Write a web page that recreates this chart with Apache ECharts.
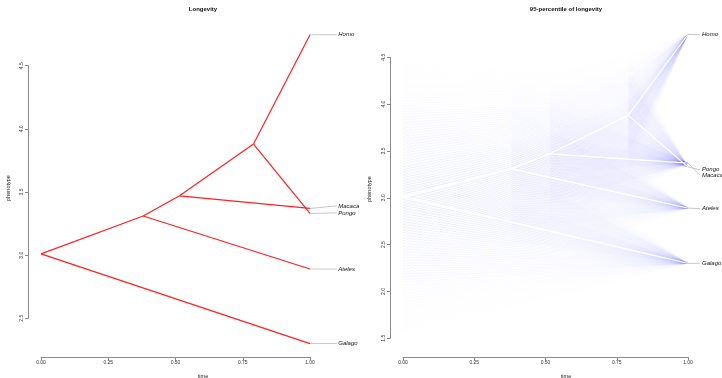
<!DOCTYPE html>
<html><head><meta charset="utf-8">
<script src="https://cdn.jsdelivr.net/npm/echarts@6/dist/echarts.min.js"></script>
<style>html,body{margin:0;padding:0;background:#fff}#c{width:722px;height:378px}</style>
</head><body><div id="c"></div>
<script>
// ---- data ----
const tipNames = ['Homo', 'Macaca', 'Pongo', 'Ateles', 'Galago'];
const tipValues = [4.745, 3.37, 3.33, 2.89, 2.30];
const tipTime = 1.0;
// internal nodes: root, n1, n2, n3
const nodeTimes = [0, 0.38, 0.515, 0.79];
const nodeValues = [3.01, 3.31, 3.47, 3.88];
const nodeLower95 = [1.51, 2.22, 2.59, 3.23];
const nodeUpper95 = [4.51, 4.40, 4.35, 4.53];
// edges: parent node index -> child ('t' = tip, 'n' = node)
const edgeParents = [0, 0, 1, 1, 2, 2, 3, 3];
const edgeChildren = ['t4', 'n1', 't3', 'n2', 't1', 'n3', 't0', 't2'];
// spread tip-label positions
const leftLabelValues = [4.745, 3.39, 3.335, 2.89, 2.30];
const rightLabelValues = [4.74, 3.24, 3.30, 2.885, 2.30];
const timeTicks = [0, 0.25, 0.5, 0.75, 1];

const FONT = 'Liberation Sans, Arial, Helvetica, sans-serif';
const chart = echarts.init(document.getElementById('c'));

function childPoint(code) {
  const idx = +code.slice(1);
  if (code[0] === 't') return { t: tipTime, v: tipValues[idx], tip: true, idx };
  return { t: nodeTimes[idx], v: nodeValues[idx], tip: false, idx };
}
function fanAlpha(k) {
  const s = String(Math.floor(k / 2)).padStart(2, '0');
  return parseInt(s, 16) / 255;
}
function line(a, b, stroke, w) {
  return { type: 'line', shape: { x1: a[0], y1: a[1], x2: b[0], y2: b[1] },
    style: { stroke, lineWidth: w } };
}

function treeSeries(ax, color, width) {
  return {
    type: 'custom', xAxisIndex: ax, yAxisIndex: ax, clip: false, silent: true, z: 5,
    data: edgeParents.map((p) => [nodeTimes[p], nodeValues[p]]),
    renderItem(params, api) {
      const i = params.dataIndex;
      const p = edgeParents[i]; const c = childPoint(edgeChildren[i]);
      return line(api.coord([nodeTimes[p], nodeValues[p]]), api.coord([c.t, c.v]), color, width);
    }
  };
}

function fanSeries(ax) {
  return {
    type: 'custom', xAxisIndex: ax, yAxisIndex: ax, clip: false, silent: true, z: 2,
    data: edgeParents.map((p) => [nodeTimes[p], nodeValues[p]]),
    renderItem(params, api) {
      const i = params.dataIndex;
      const p = edgeParents[i]; const c = childPoint(edgeChildren[i]);
      const kids = [];
      for (let k = 0; k <= 50; k++) {
        const al = 0.012 + fanAlpha(k) * 0.5;
        const f = k / 51;
        [nodeLower95, nodeUpper95].forEach((bound) => {
          const vp = (1 - f) * bound[p] + f * nodeValues[p];
          const vc = c.tip ? c.v : (1 - f) * bound[c.idx] + f * nodeValues[c.idx];
          kids.push(line(api.coord([nodeTimes[p], vp]), api.coord([c.t, vc]),
            'rgba(0,0,255,' + al.toFixed(4) + ')', 0.6));
        });
      }
      return { type: 'group', children: kids };
    }
  };
}

function labelSeries(ax, labelVals, linkEnd, textStart) {
  return {
    type: 'custom', xAxisIndex: ax, yAxisIndex: ax, clip: false, silent: true, z: 6,
    data: tipNames.map((n, i) => [tipTime, tipValues[i]]),
    renderItem(params, api) {
      const i = params.dataIndex;
      const a = api.coord([tipTime, tipValues[i]]);
      const b = api.coord([linkEnd, labelVals[i]]);
      const t = api.coord([textStart, labelVals[i]]);
      return { type: 'group', children: [
        line(a, b, '#c8c8c8', 1),
        { type: 'text', x: t[0], y: t[1], style: { text: tipNames[i], fill: '#111',
          font: 'italic 6px ' + FONT, align: 'left', verticalAlign: 'middle' } }
      ] };
    }
  };
}

function xAxisCfg(grid, offset) {
  return {
    type: 'value', gridIndex: grid, min: 0, max: 1, interval: 0.25, offset,
    axisLine: { show: true, onZero: false, lineStyle: { color: '#8a8a8a', width: 1 } },
    axisTick: { show: true, length: 3, lineStyle: { color: '#8a8a8a' } },
    axisLabel: { fontSize: 5, color: '#333', margin: 3, fontFamily: FONT,
      formatter: (v) => v.toFixed(2) },
    splitLine: { show: false }
  };
}
function yAxisCfg(grid, min, max) {
  return {
    type: 'value', gridIndex: grid, min, max, interval: 0.5, offset: 13,
    axisLine: { show: true, onZero: false, lineStyle: { color: '#8a8a8a', width: 1 } },
    axisTick: { show: true, length: 3, lineStyle: { color: '#8a8a8a' } },
    axisLabel: { fontSize: 5, color: '#333', margin: 4, rotate: 90, fontFamily: FONT,
      formatter: (v) => v.toFixed(1) },
    splitLine: { show: false }
  };
}

const titleStyle = { fontSize: 6, fontWeight: 'bold', color: '#111', fontFamily: FONT };

chart.setOption({
  animation: false,
  backgroundColor: '#fff',
  title: [
    { text: 'Longevity', left: 203, top: 6, textAlign: 'center', textStyle: titleStyle, padding: 0 },
    { text: '95-percentile of longevity', left: 566, top: 6, textAlign: 'center', textStyle: titleStyle, padding: 0 }
  ],
  grid: [
    { left: 41, width: 269, top: 65.7, height: 252.6, containLabel: false, outerBoundsMode: 'none' },
    { left: 403, width: 285, top: 57.3, height: 281, containLabel: false, outerBoundsMode: 'none' }
  ],
  xAxis: [xAxisCfg(0, 38.7), xAxisCfg(1, 18.7)],
  yAxis: [yAxisCfg(0, 2.5, 4.5), yAxisCfg(1, 1.5, 4.5)],
  graphic: [
    { type: 'text', x: 203, y: 376, style: { text: 'time', align: 'center', verticalAlign: 'middle', font: '5.5px ' + FONT, fill: '#222' } },
    { type: 'text', x: 566, y: 376, style: { text: 'time', align: 'center', verticalAlign: 'middle', font: '5.5px ' + FONT, fill: '#222' } },
    { type: 'text', x: 8, y: 188, rotation: Math.PI / 2, style: { text: 'phenotype', align: 'center', verticalAlign: 'middle', font: '5.5px ' + FONT, fill: '#222' } },
    { type: 'text', x: 369, y: 189, rotation: Math.PI / 2, style: { text: 'phenotype', align: 'center', verticalAlign: 'middle', font: '5.5px ' + FONT, fill: '#222' } }
  ],
  series: [
    treeSeries(0, '#ff2020', 1.2),
    labelSeries(0, leftLabelValues, 1.10, 1.105),
    fanSeries(1),
    treeSeries(1, '#ffffff', 1.3),
    labelSeries(1, rightLabelValues, 1.042, 1.049)
  ]
});
</script></body></html>
